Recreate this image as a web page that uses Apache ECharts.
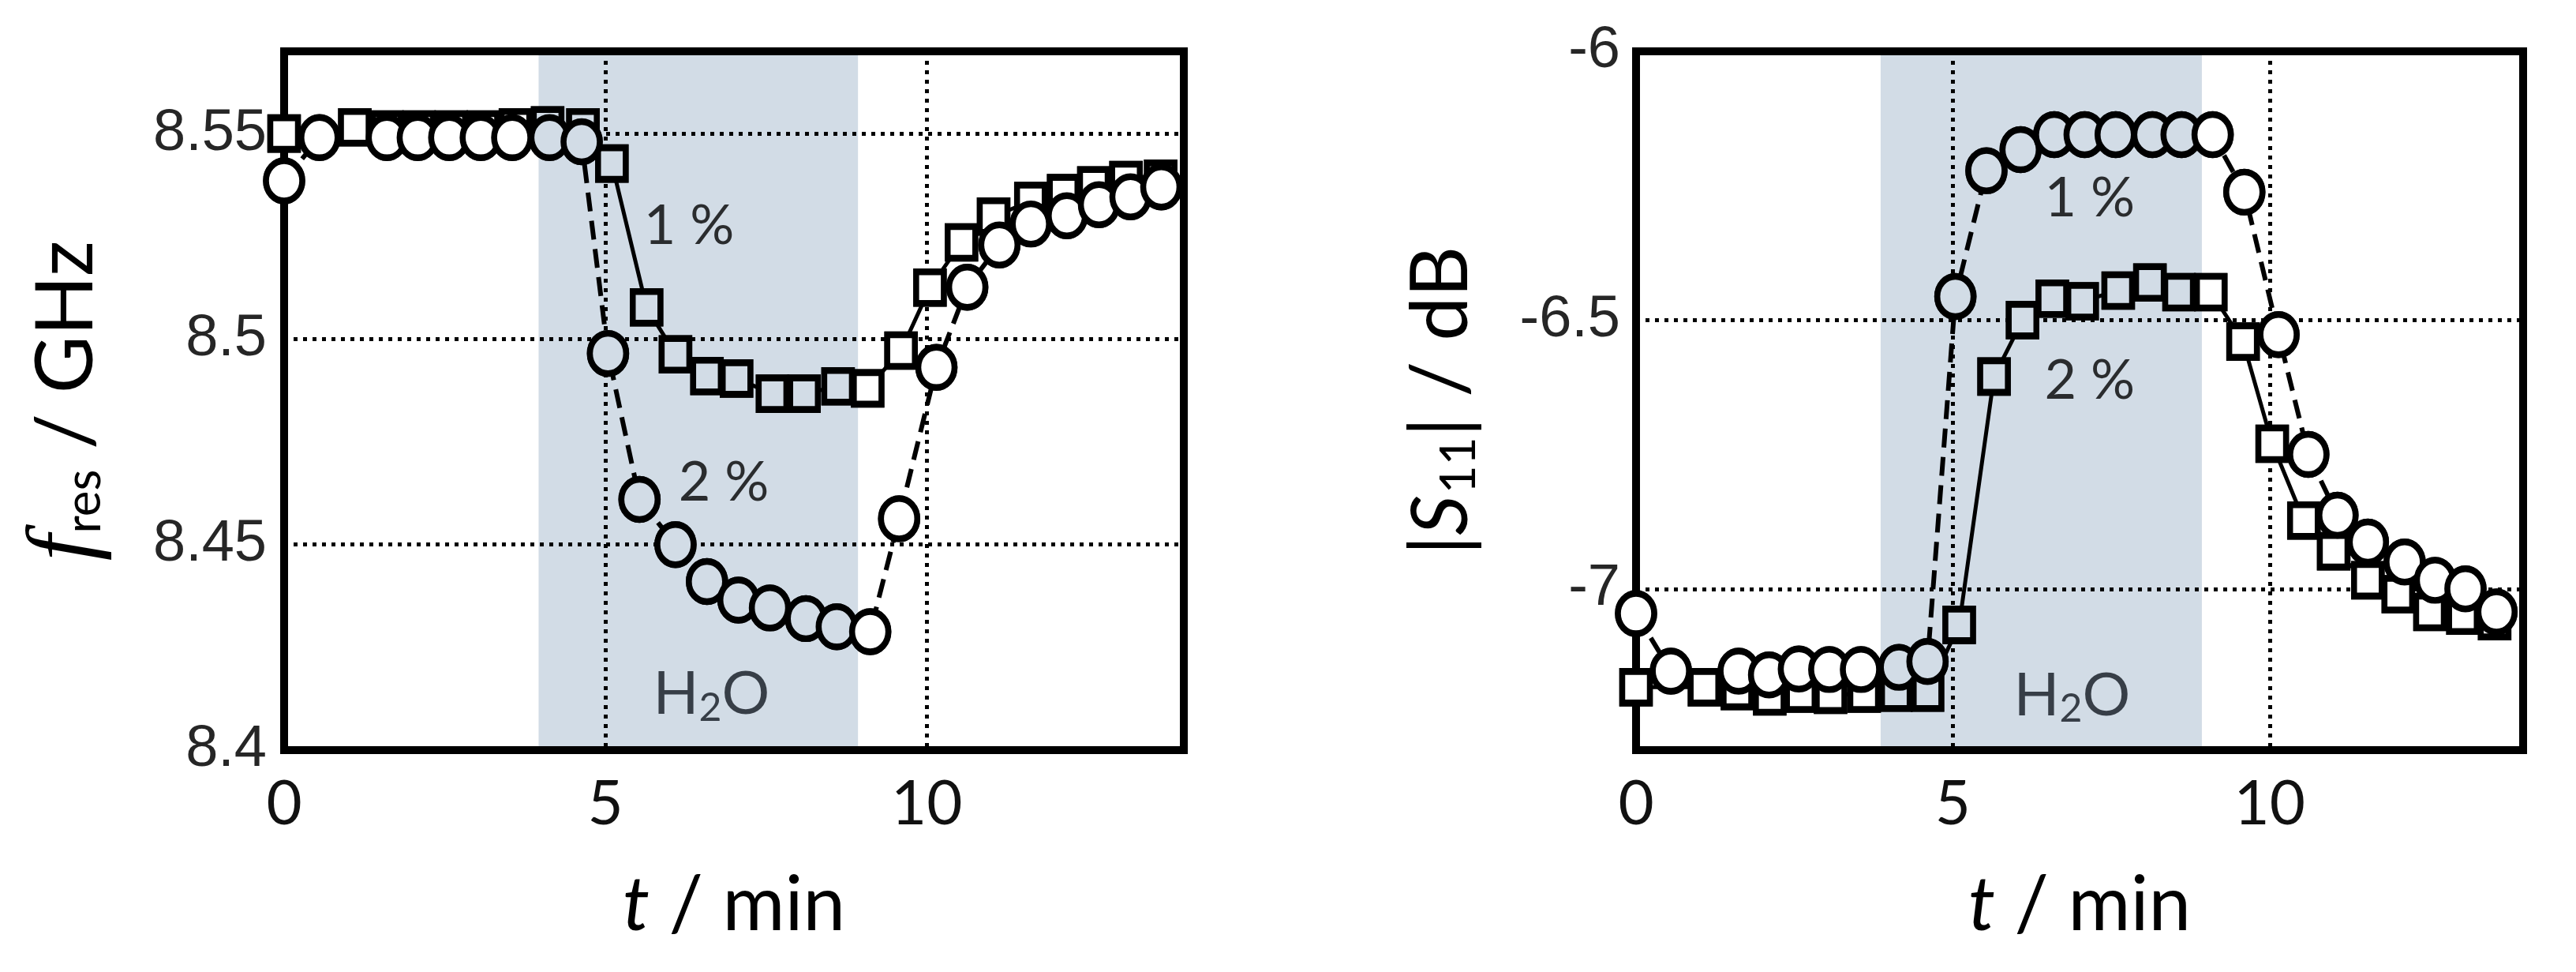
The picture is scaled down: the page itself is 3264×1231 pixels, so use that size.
<!DOCTYPE html>
<html>
<head>
<meta charset="utf-8">
<script src="https://cdn.jsdelivr.net/npm/echarts@6/dist/echarts.min.js"></script>
<style>
  html, body { margin: 0; padding: 0; background: #fff; }
  #chart { width: 3264px; height: 1231px; }
</style>
</head>
<body>
<div id="chart"></div>
<script>
// ---- data ----
// left panel: f_res / GHz
const tSqLeft = [0, 1.1, 1.6, 2.1, 2.6, 3.1, 3.6, 4.1, 4.65, 5.1, 5.64, 6.09, 6.58, 7.04, 7.6, 8.09, 8.62, 9.08, 9.6, 10.05, 10.54, 11.04, 11.62, 12.13, 12.6, 13.1, 13.64];
const fSq1 = [8.550, 8.5515, 8.551, 8.551, 8.551, 8.551, 8.5515, 8.552, 8.5515, 8.5427, 8.5077, 8.4963, 8.491, 8.4904, 8.4867, 8.4867, 8.4885, 8.488, 8.4972, 8.5125, 8.5235, 8.5298, 8.5336, 8.5355, 8.5374, 8.5387, 8.539];
const tCiLeft = [0, 0.55, 1.6, 2.08, 2.57, 3.06, 3.55, 4.13, 4.63, 5.04, 5.53, 6.09, 6.58, 7.07, 7.56, 8.12, 8.6, 9.12, 9.57, 10.15, 10.63, 11.13, 11.62, 12.18, 12.68, 13.17, 13.65];
const fCi2 = [8.5385, 8.549, 8.549, 8.549, 8.549, 8.549, 8.549, 8.549, 8.548, 8.4965, 8.461, 8.45, 8.441, 8.4365, 8.4346, 8.432, 8.430, 8.4288, 8.4563, 8.4931, 8.5126, 8.5229, 8.528, 8.530, 8.5327, 8.5346, 8.537];

// right panel: |S11| / dB
const tCiRight = [0, 0.55, 1.62, 2.1, 2.57, 3.05, 3.55, 4.15, 4.6, 5.04, 5.53, 6.07, 6.6, 7.08, 7.57, 8.15, 8.61, 9.1, 9.6, 10.14, 10.61, 11.07, 11.55, 12.13, 12.61, 13.09, 13.58];
const sCi1 = [-7.046, -7.153, -7.153, -7.16, -7.149, -7.15, -7.15, -7.146, -7.135, -6.456, -6.222, -6.183, -6.155, -6.155, -6.155, -6.155, -6.155, -6.155, -6.262, -6.527, -6.75, -6.863, -6.913, -6.95, -6.984, -7.0, -7.043];
const tSqRight = [0, 1.08, 1.6, 2.11, 2.6, 3.07, 3.6, 4.1, 4.6, 5.1, 5.65, 6.1, 6.57, 7.04, 7.61, 8.11, 8.57, 9.07, 9.58, 10.04, 10.54, 11.01, 11.55, 12.03, 12.53, 13.05, 13.55];
const sSq2 = [-7.183, -7.183, -7.19, -7.2, -7.195, -7.197, -7.195, -7.193, -7.193, -7.067, -6.605, -6.5, -6.46, -6.465, -6.445, -6.43, -6.448, -6.448, -6.54, -6.73, -6.873, -6.93, -6.984, -7.01, -7.043, -7.05, -7.06];

// H2O exposure window (min)
const bandLeft = [3.96, 8.93];
const bandRight = [3.86, 8.93];

// annotations
const annLeftPos = [[6.3, 8.5275], [6.84, 8.465], [6.65, 8.4135]];
const annRightPos = [[7.16, -6.274], [7.16, -6.613], [6.88, -7.199]];
const annText = ['1 %', '2 %', '{h|H}{hs|2}{h|O}'];

const BAND = '#d2dce6';

const chart = echarts.init(document.getElementById('chart'));

const pts = (t, v, band) =>
  t.map((x, i) => ({
    value: [x, v[i]],
    itemStyle: { color: x >= band[0] && x <= band[1] ? BAND : '#fff' },
  }));

// line + opaque symbols, then outline-only symbols on top
const markerSeries = (idx, t, v, band, shape, size, dashed) => [
  {
    type: 'line',
    xAxisIndex: idx,
    yAxisIndex: idx,
    data: pts(t, v, band),
    symbol: shape,
    symbolSize: size,
    showSymbol: true,
    clip: false,
    lineStyle: { color: '#000', width: dashed ? 6 : 5, type: dashed ? [24, 12] : 'solid' },
    itemStyle: { borderColor: '#000', borderWidth: 8 },
  },
  {
    type: 'scatter',
    xAxisIndex: idx,
    yAxisIndex: idx,
    data: t.map((x, i) => [x, v[i]]),
    symbol: shape,
    symbolSize: size,
    clip: false,
    itemStyle: { color: 'rgba(0,0,0,0)', borderColor: '#000', borderWidth: 8 },
  },
];

const bandSeries = (idx, band) => ({
  type: 'custom',
  xAxisIndex: idx,
  yAxisIndex: idx,
  z: -1,
  silent: true,
  data: [band],
  encode: { x: [0, 1] },
  renderItem: (params, api) => {
    const cs = params.coordSys;
    const x0 = api.coord([api.value(0), 0])[0];
    const x1 = api.coord([api.value(1), 0])[0];
    return { type: 'rect', shape: { x: x0, y: cs.y, width: x1 - x0, height: cs.height }, style: { fill: BAND } };
  },
});

const annSeries = (idx, pos) => ({
  type: 'scatter',
  xAxisIndex: idx,
  yAxisIndex: idx,
  symbolSize: 0,
  silent: true,
  data: pos.map((p, i) => ({ value: p, name: annText[i] })),
  label: {
    show: true,
    position: 'inside',
    formatter: (p) => p.name,
    color: '#000',
    fontFamily: 'Lato',
    fontSize: 70,
    rich: {
      h: { fontFamily: 'Lato', fontSize: 76, color: '#10161f', lineHeight: 80 },
      hs: { fontFamily: 'Lato', fontSize: 50, color: '#10161f', lineHeight: 50, padding: [34, 0, 0, 0] },
    },
  },
});

const nameRich = {
  f: { fontFamily: 'Liberation Serif', fontStyle: 'italic', fontSize: 118, lineHeight: 120, color: '#000' },
  s: { fontFamily: 'Lato', fontStyle: 'italic', fontSize: 100, lineHeight: 120, color: '#000' },
  t: { fontFamily: 'Lato', fontStyle: 'italic', fontSize: 96, lineHeight: 110, color: '#000' },
  n: { fontFamily: 'Lato', fontSize: 100, lineHeight: 120, color: '#000' },
  m: { fontFamily: 'Lato', fontSize: 96, lineHeight: 110, color: '#000' },
  sub: { fontFamily: 'Lato', fontSize: 62, lineHeight: 62, padding: [44, 0, 0, 2], color: '#000' },
};

const gridLine = { show: true, lineStyle: { color: '#000', width: 5, type: [5, 7] } };
const fmt = (v) => String(Number(v.toFixed(2)));

const xAxisBase = (idx) => ({
  type: 'value',
  gridIndex: idx,
  min: 0,
  max: 14,
  interval: 5,
  name: '{t|t}{m| / min}',
  nameLocation: 'middle',
  nameGap: 142,
  nameTextStyle: { rich: nameRich },
  axisLine: { show: false },
  axisTick: { show: false },
  splitLine: gridLine,
  axisLabel: { showMaxLabel: false, margin: 30, fontFamily: 'Lato', fontSize: 78, color: '#111', formatter: fmt },
});

const option = {
  animation: false,
  backgroundColor: '#fff',
  grid: [
    { left: 360, top: 65, width: 1140, height: 885, show: true, borderColor: '#000', borderWidth: 10, backgroundColor: 'transparent' },
    { left: 2073, top: 65, width: 1124, height: 885, show: true, borderColor: '#000', borderWidth: 10, backgroundColor: 'transparent' },
  ],
  xAxis: [xAxisBase(0), xAxisBase(1)],
  yAxis: [
    {
      type: 'value',
      gridIndex: 0,
      min: 8.4,
      max: 8.57,
      interval: 0.05,
      name: '{f|f}{sub|res}{n| / GHz}',
      nameLocation: 'middle',
      nameGap: 215,
      nameTextStyle: { rich: nameRich },
      axisLine: { show: false },
      axisTick: { show: false },
      splitLine: gridLine,
      axisLabel: { showMaxLabel: false, margin: 22, fontFamily: 'Liberation Sans', fontSize: 74, color: '#262626', formatter: fmt },
    },
    {
      type: 'value',
      gridIndex: 1,
      min: -7.3,
      max: -6,
      splitNumber: 3,
      minInterval: 0.5,
      maxInterval: 0.5,
      name: '{n||}{s|S}{sub|11}{n|| / dB}',
      nameLocation: 'middle',
      nameGap: 186,
      nameTextStyle: { rich: nameRich },
      axisLine: { show: false },
      axisTick: { show: false },
      splitLine: gridLine,
      axisLabel: { showMinLabel: false, margin: 20, fontFamily: 'Liberation Sans', fontSize: 74, color: '#262626', formatter: fmt },
    },
  ],
  series: [
    bandSeries(0, bandLeft),
    bandSeries(1, bandRight),
    ...markerSeries(0, tSqLeft, fSq1, bandLeft, 'rect', [35, 40], false),
    ...markerSeries(0, tCiLeft, fCi2, bandLeft, 'circle', [46, 51], true),
    ...markerSeries(1, tSqRight, sSq2, bandRight, 'rect', [35, 40], false),
    ...markerSeries(1, tCiRight, sCi1, bandRight, 'circle', [46, 51], true),
    annSeries(0, annLeftPos),
    annSeries(1, annRightPos),
  ],
};

chart.setOption(option);
</script>
</body>
</html>
